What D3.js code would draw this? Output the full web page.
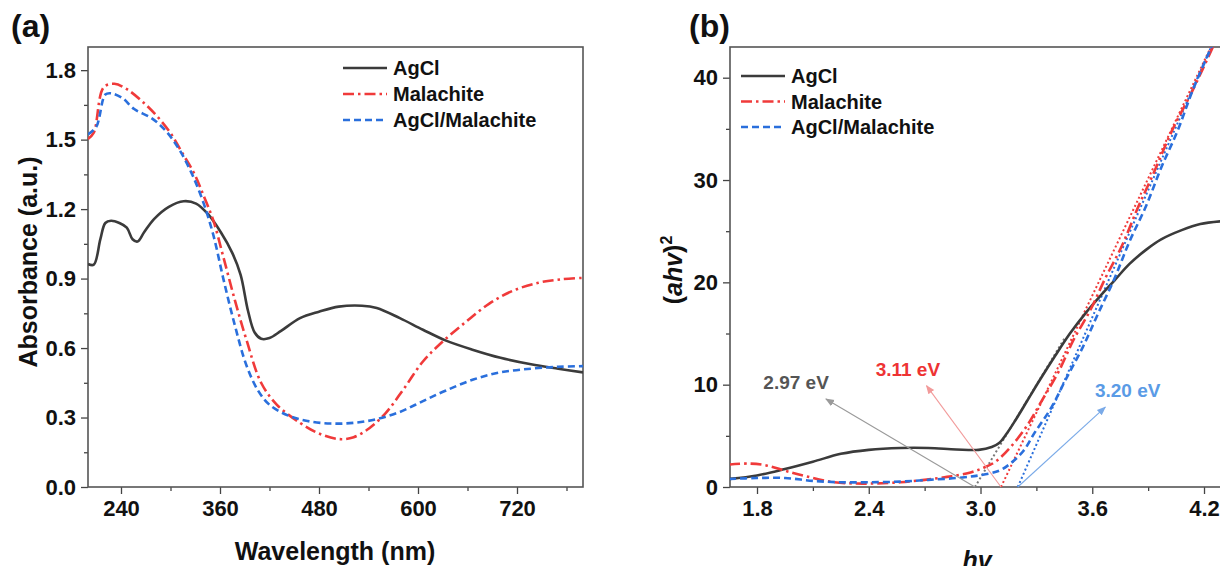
<!DOCTYPE html>
<html><head><meta charset="utf-8">
<script src="https://cdn.jsdelivr.net/npm/d3@7"></script>
<style>
body{margin:0;background:#fff;}
svg{display:block;font-family:"Liberation Sans",Arial,sans-serif;}
</style></head>
<body><svg id="c" width="1220" height="566"></svg>
<script>
// ---------- Panel (a) data: UV-vis absorbance ----------
const seriesNames = ["AgCl", "Malachite", "AgCl/Malachite"];
const aWavelength_AgCl = [200,207,215,221,228,238,247,254,260,268,280,298,316,331,345,361,375,385,394,402,410,420,434,457,480,504,532,550,578,606,634,667,700,737,770,800];
const aAbs_AgCl        = [0.963,0.96,1.07,1.14,1.15,1.14,1.12,1.07,1.06,1.10,1.157,1.21,1.234,1.224,1.18,1.10,1.01,0.916,0.76,0.667,0.64,0.643,0.674,0.729,0.757,0.779,0.783,0.773,0.729,0.679,0.632,0.592,0.558,0.53,0.511,0.495];
const aWavelength_Mal  = [200,207,219,232,247,266,284,301,315,329,340,352,364,378,392,410,429,457,480,504,522,541,560,583,606,630,658,686,714,746,774,800];
const aAbs_Mal         = [1.503,1.53,1.726,1.741,1.718,1.664,1.60,1.523,1.438,1.352,1.259,1.15,0.994,0.807,0.636,0.449,0.355,0.277,0.231,0.207,0.215,0.254,0.316,0.425,0.542,0.628,0.713,0.791,0.846,0.882,0.897,0.903];
const aWavelength_Comp = [200,210,221,228,242,256,277,294,310,326,340,352,364,378,392,406,420,443,466,494,522,550,578,606,634,667,700,737,770,800];
const aAbs_Comp        = [1.523,1.555,1.695,1.70,1.679,1.632,1.593,1.539,1.461,1.352,1.227,1.087,0.90,0.698,0.526,0.417,0.355,0.308,0.285,0.274,0.277,0.293,0.324,0.371,0.417,0.464,0.495,0.511,0.519,0.522];
const aXTicks = [240,360,480,600,720];
const aYTicks = [0.0,0.3,0.6,0.9,1.2,1.5,1.8];

// ---------- Panel (b) data: Tauc plot ----------
const bHv_AgCl  = [1.65,1.80,1.95,2.10,2.25,2.40,2.57,2.72,2.87,2.99,3.06,3.10,3.14,3.19,3.25,3.32,3.40,3.48,3.56,3.64,3.72,3.80,3.89,3.97,4.08,4.18,4.31];
const bTauc_AgCl= [0.78,1.13,1.76,2.47,3.24,3.63,3.81,3.81,3.67,3.63,3.9,4.3,5.2,6.6,8.4,10.5,12.8,15.0,16.9,18.6,20.2,21.8,23.2,24.2,25.1,25.7,26.0];
const bHv_Mal   = [1.65,1.76,1.85,1.95,2.06,2.19,2.31,2.44,2.57,2.70,2.82,2.93,3.01,3.08,3.16,3.25,3.33,3.42,3.50,3.59,3.67,3.76,3.84,3.93,4.03,4.14,4.26];
const bTauc_Mal = [2.19,2.29,2.11,1.59,1.06,0.53,0.35,0.35,0.46,0.70,0.99,1.34,1.83,2.47,3.88,6.0,8.46,11.3,14.4,17.3,20.4,23.6,27.1,30.7,34.9,38.8,43.5];
const bHv_Comp  = [1.65,1.80,1.95,2.10,2.25,2.40,2.57,2.72,2.87,2.99,3.10,3.16,3.23,3.29,3.38,3.46,3.55,3.63,3.72,3.80,3.89,3.97,4.06,4.14,4.25];
const bTauc_Comp= [0.78,0.88,0.88,0.6,0.46,0.46,0.53,0.70,0.88,1.13,1.59,2.29,3.52,5.29,7.75,10.6,13.7,16.9,20.4,24.0,27.5,31.2,34.9,38.8,43.4];
// tangent (band-gap) lines: [hv, value] endpoints
const bandGaps    = [2.97, 3.11, 3.20];
const bandGapText = ["2.97 eV", "3.11 eV", "3.20 eV"];
const tangentEnds = [[3.45,14.5],[4.25,43.5],[4.25,43.5]];
const arrowEnds   = [[2.17,8.6],[2.71,9.9],[3.67,7.8]];
const labelPos    = [[2.01,9.6],[2.61,10.8],[3.79,8.8]];
const bXTicks = [1.8,2.4,3.0,3.6,4.2];
const bYTicks = [0,10,20,30,40];

const colors = ["#3b3b3b","#f03a3a","#2a6fdc"];
const dashes = [null,"11,4,2.5,4","7,4"];
const annColors = ["#555555","#ee3333","#5a9be6"];
const arrowColors = ["#9a9a9a","#f29a9a","#7aaae8"];

const svg = d3.select("#c");
const defs = svg.append("defs");
arrowColors.forEach((c,i)=>{
  defs.append("marker").attr("id","arr"+i).attr("viewBox","0 0 10 10")
    .attr("refX",9).attr("refY",5).attr("markerWidth",9).attr("markerHeight",9)
    .attr("markerUnits","userSpaceOnUse").attr("orient","auto")
    .append("path").attr("d","M0,1 L10,5 L0,9 Z").attr("fill",c);
});

function axisStyle(g){
  g.selectAll(".domain").remove();
  g.selectAll("line").attr("stroke","#444").attr("stroke-width",1.3);
  g.selectAll("text").attr("font-size",22).attr("font-weight","bold").attr("fill","#111")
   .attr("font-family","'Liberation Sans',Arial,sans-serif");
}

function panel(cfg){
  const {L,R,T,B,x,y,xMinor,yMinor,xTicks,yTicks,xFmt,yFmt,clipId} = cfg;
  const g = svg.append("g");
  defs.append("clipPath").attr("id",clipId).append("rect").attr("x",L).attr("y",T).attr("width",R-L).attr("height",B-T);
  g.append("g").attr("transform",`translate(0,${B})`).call(d3.axisBottom(x).tickValues(xMinor).tickSize(4).tickFormat("")).call(axisStyle);
  g.append("g").attr("transform",`translate(${L},0)`).call(d3.axisLeft(y).tickValues(yMinor).tickSize(4).tickFormat("")).call(axisStyle);
  g.append("g").attr("transform",`translate(0,${B})`).call(d3.axisBottom(x).tickValues(xTicks).tickSize(7).tickPadding(6).tickFormat(xFmt)).call(axisStyle);
  g.append("g").attr("transform",`translate(${L},0)`).call(d3.axisLeft(y).tickValues(yTicks).tickSize(7).tickPadding(5).tickFormat(yFmt)).call(axisStyle);
  g.append("rect").attr("x",L).attr("y",T).attr("width",R-L).attr("height",B-T)
   .attr("fill","none").attr("stroke","#555").attr("stroke-width",1.6);
  return g.append("g").attr("clip-path",`url(#${clipId})`);
}

function drawLine(g,x,y,xs,ys,i){
  const line = d3.line().x(d=>x(d[0])).y(d=>y(d[1])).curve(d3.curveCatmullRom.alpha(0.5));
  g.append("path").datum(xs.map((v,k)=>[v,ys[k]])).attr("d",line)
   .attr("fill","none").attr("stroke",colors[i]).attr("stroke-width",2.6)
   .attr("stroke-dasharray",dashes[i]).attr("stroke-linecap","butt");
}

function legend(x0,y0,dy){
  seriesNames.forEach((n,i)=>{
    const yy=y0+i*dy;
    svg.append("line").attr("x1",x0).attr("x2",x0+44).attr("y1",yy).attr("y2",yy)
      .attr("stroke",colors[i]).attr("stroke-width",2.6).attr("stroke-dasharray",dashes[i]);
    svg.append("text").attr("x",x0+50).attr("y",yy+7).text(n)
      .attr("font-size",20).attr("font-weight","bold").attr("fill","#111");
  });
}

// ---------- Panel (a) ----------
const ax = d3.scaleLinear().domain([200,800]).range([88,583]);
const ay = d3.scaleLinear().domain([0,1.9]).range([487,47]);
const ga = panel({L:88,R:583,T:47,B:487,x:ax,y:ay,
  xMinor:[300,420,540,660,780], yMinor:[0.15,0.45,0.75,1.05,1.35,1.65],
  xTicks:aXTicks,yTicks:aYTicks,xFmt:d3.format("d"),yFmt:d3.format(".1f"),clipId:"ca"});
drawLine(ga,ax,ay,aWavelength_AgCl,aAbs_AgCl,0);
drawLine(ga,ax,ay,aWavelength_Mal,aAbs_Mal,1);
drawLine(ga,ax,ay,aWavelength_Comp,aAbs_Comp,2);
legend(343,68,26);
svg.append("text").attr("x",11).attr("y",37).text("(a)").attr("font-size",32).attr("font-weight","bold").attr("fill","#111");
svg.append("text").attr("transform","translate(37,262) rotate(-90)").attr("text-anchor","middle")
  .text("Absorbance (a.u.)").attr("font-size",25).attr("font-weight","bold").attr("fill","#111");
svg.append("text").attr("x",335).attr("y",560).attr("text-anchor","middle")
  .text("Wavelength (nm)").attr("font-size",25).attr("font-weight","bold").attr("fill","#111");

// ---------- Panel (b) ----------
const bx = d3.scaleLinear().domain([1.655,4.31]).range([730,1224.5]);
const by = d3.scaleLinear().domain([0,43]).range([487,47]);
const gb = panel({L:730,R:1224.5,T:47,B:487,x:bx,y:by,
  xMinor:[2.1,2.7,3.3,3.9], yMinor:[5,15,25,35],
  xTicks:bXTicks,yTicks:bYTicks,xFmt:d3.format(".1f"),yFmt:d3.format("d"),clipId:"cb"});
bandGaps.forEach((e,i)=>{
  gb.append("line").attr("x1",bx(e)).attr("y1",by(0)).attr("x2",bx(tangentEnds[i][0])).attr("y2",by(tangentEnds[i][1]))
    .attr("stroke",i===0?"#777":colors[i]).attr("stroke-width",2).attr("stroke-dasharray","2,2.5");
});
drawLine(gb,bx,by,bHv_AgCl,bTauc_AgCl,0);
drawLine(gb,bx,by,bHv_Mal,bTauc_Mal,1);
drawLine(gb,bx,by,bHv_Comp,bTauc_Comp,2);
bandGaps.forEach((e,i)=>{
  svg.append("line").attr("x1",bx(e)).attr("y1",by(0)).attr("x2",bx(arrowEnds[i][0])).attr("y2",by(arrowEnds[i][1]))
    .attr("stroke",arrowColors[i]).attr("stroke-width",1.1).attr("marker-end",`url(#arr${i})`);
  svg.append("text").attr("x",bx(labelPos[i][0])).attr("y",by(labelPos[i][1])).attr("text-anchor","middle")
    .text(bandGapText[i]).attr("font-size",19).attr("font-weight","bold").attr("fill",annColors[i]);
});
legend(741,76,25.5);
svg.append("text").attr("x",689).attr("y",37).text("(b)").attr("font-size",32).attr("font-weight","bold").attr("fill","#111");
const yl = svg.append("text").attr("transform","translate(682,270) rotate(-90)").attr("text-anchor","middle")
  .attr("font-size",25).attr("font-weight","bold").attr("fill","#111");
yl.append("tspan").text("(");
yl.append("tspan").attr("font-style","italic").text("ahv");
yl.append("tspan").text(")");
yl.append("tspan").attr("font-size",16).attr("dy",-10).text("2");
svg.append("text").attr("x",977).attr("y",569).attr("text-anchor","middle").attr("font-style","italic")
  .attr("font-size",25).attr("font-weight","bold").attr("fill","#111").text("hv");
</script></body></html>
